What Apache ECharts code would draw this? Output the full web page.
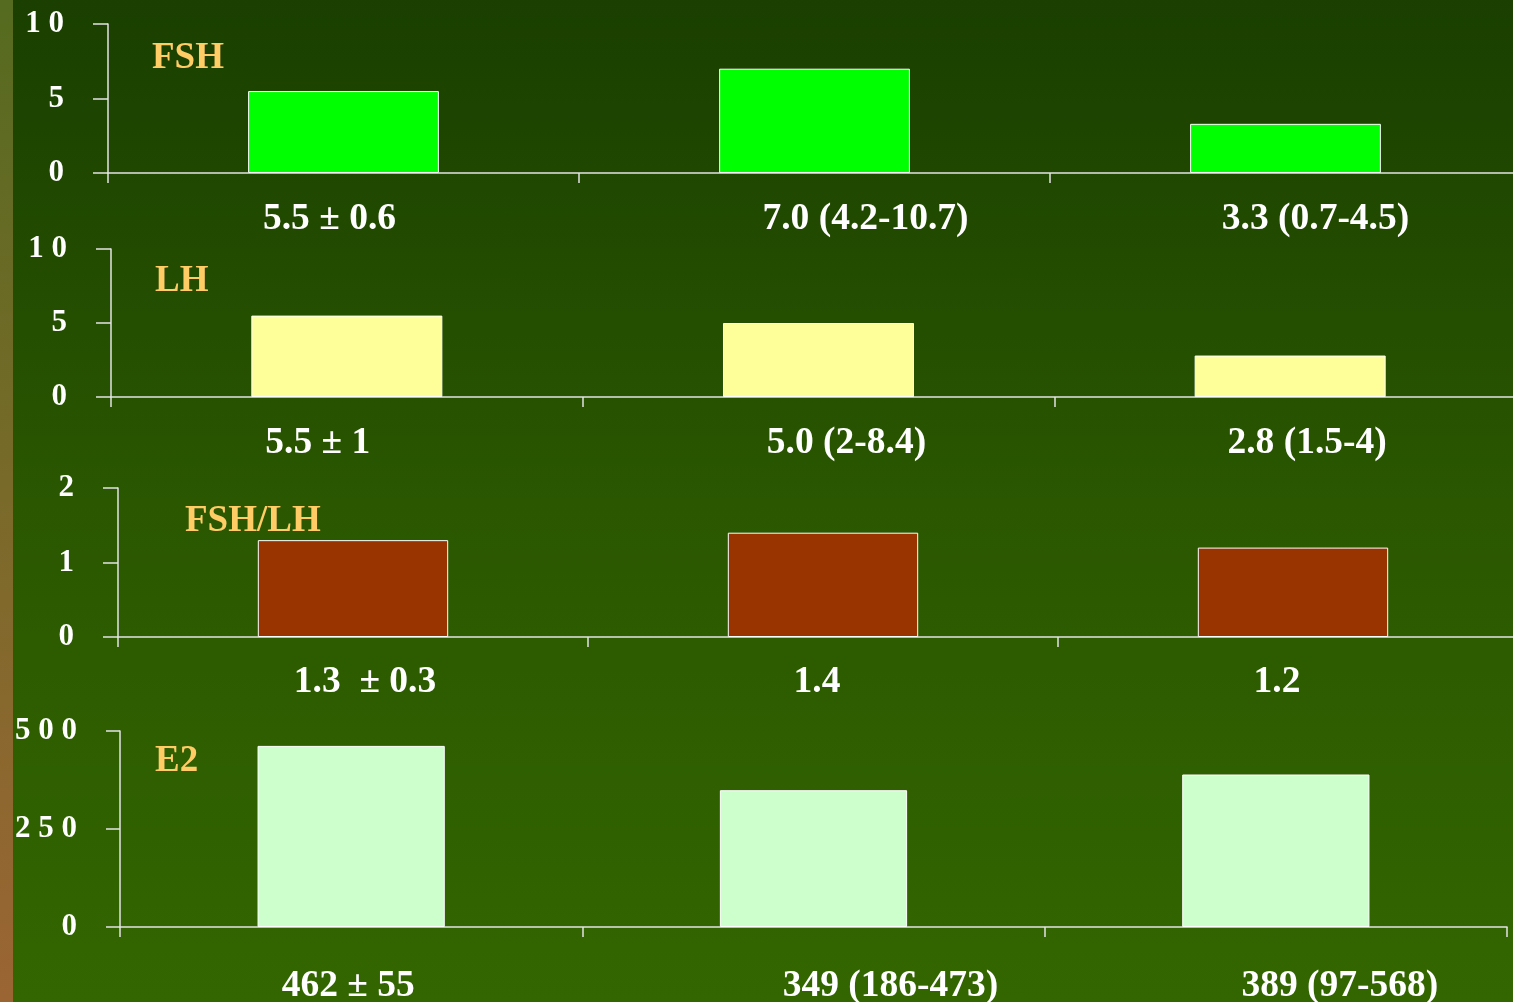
<!DOCTYPE html>
<html>
<head>
<meta charset="utf-8">
<title>FSH, LH, FSH/LH, E2</title>
<script src="https://cdn.jsdelivr.net/npm/echarts@6/dist/echarts.min.js"></script>
<style>
  html, body { margin: 0; padding: 0; }
  body { width: 1513px; height: 1002px; overflow: hidden; position: relative;
         background: linear-gradient(to bottom, #1a3f00 0%, #2a5700 50%, #336600 100%); }
  #strip { position: absolute; left: 0; top: 0; width: 13px; height: 1002px;
           background: linear-gradient(to bottom, #556b1f 0%, #7a6a2a 50%, #9b6533 100%); }
  #chart { position: absolute; left: 0; top: 0; width: 1513px; height: 1002px; }
</style>
</head>
<body>
<div id="strip"></div>
<div id="chart"></div>
<script>
// Panel titles
const panelNames = ['FSH', 'LH', 'FSH/LH', 'E2'];

// Bar values per panel (three groups each)
const fshValues = [5.5, 7.0, 3.3];
const lhValues = [5.5, 5.0, 2.8];
const ratioValues = [1.3, 1.4, 1.2];
const e2Values = [462, 349, 389];

// Group summaries printed under each bar
const fshLabels = ['5.5 ± 0.6', '7.0 (4.2-10.7)', '3.3 (0.7-4.5)'];
const lhLabels = ['5.5 ± 1', '5.0 (2-8.4)', '2.8 (1.5-4)'];
const ratioLabels = ['1.3  ± 0.3', '1.4', '1.2'];
const e2Labels = ['462 ± 55', '349 (186-473)', '389 (97-568)'];

// Value-axis ranges: [max, tick step]
const fshAxis = [10, 5];
const lhAxis = [10, 5];
const ratioAxis = [2, 1];
const e2Axis = [500, 250];

// Layout of the four stacked panels (the category axes run past the right edge)
const panelLayout = [
  { left: 108, top: 24,  width: 1413, height: 149, labelMargin: 27, title: [152, 40],  tick: 15 },
  { left: 111, top: 249, width: 1415, height: 148, labelMargin: 27, title: [155, 263], tick: 15 },
  { left: 118, top: 488, width: 1410, height: 149, labelMargin: 26, title: [185, 503], tick: 15 },
  { left: 120, top: 731, width: 1387, height: 196, labelMargin: 40, title: [155, 743], tick: 14 }
];
// Horizontal nudge of each summary label from its group centre
const labelShift = [
  [-14, 51, 30],
  [-29, 28, 17],
  [12, -6, -16],
  [-3, 77, 64]
];
const barColors = ['#00ff00', '#ffff99', '#993300', '#ccffcc'];

const panels = [
  { values: fshValues, labels: fshLabels, axis: fshAxis },
  { values: lhValues, labels: lhLabels, axis: lhAxis },
  { values: ratioValues, labels: ratioLabels, axis: ratioAxis },
  { values: e2Values, labels: e2Labels, axis: e2Axis }
];

const serif = '"Liberation Serif", "Times New Roman", serif';
const lineColor = '#e4e4e4';

const grid = [], xAxis = [], yAxis = [], series = [], title = [];

panels.forEach((p, i) => {
  const L = panelLayout[i];
  grid.push({
    left: L.left, top: L.top, width: L.width, height: L.height,
    containLabel: false, outerBoundsMode: 'none'
  });

  const rich = {};
  labelShift[i].forEach((d, k) => {
    rich['c' + k] = {
      color: '#ffffff', fontFamily: serif, fontWeight: 'bold', fontSize: 37.5,
      padding: d >= 0 ? [0, 0, 0, 2 * d] : [0, -2 * d, 0, 0]
    };
  });

  xAxis.push({
    type: 'category', gridIndex: i, data: p.labels, boundaryGap: true,
    axisLine: { show: true, lineStyle: { color: lineColor, width: 1.5 } },
    axisTick: { show: true, length: 10, inside: false, lineStyle: { color: lineColor, width: 1.5 } },
    axisLabel: {
      interval: 0, margin: L.labelMargin, hideOverlap: false,
      formatter: (v, idx) => '{c' + idx + '|' + v + '}',
      rich: rich
    },
    splitLine: { show: false }
  });

  yAxis.push({
    type: 'value', gridIndex: i, min: 0, max: p.axis[0], interval: p.axis[1],
    axisLine: { show: true, lineStyle: { color: lineColor, width: 1.5 } },
    axisTick: { show: true, length: L.tick, inside: false, lineStyle: { color: lineColor, width: 1.5 } },
    axisLabel: {
      color: '#ffffff', fontFamily: serif, fontWeight: 'bold', fontSize: 31,
      margin: L.tick + 29,
      formatter: v => String(v).split('').join(' ')
    },
    splitLine: { show: false }
  });

  series.push({
    type: 'bar', xAxisIndex: i, yAxisIndex: i, data: p.values,
    barWidth: '40.5%',
    itemStyle: { color: barColors[i], borderColor: '#ffffff', borderWidth: 1 },
    silent: true, animation: false
  });

  title.push({
    text: panelNames[i], left: L.title[0], top: L.title[1], padding: 0,
    textStyle: { color: '#ffcc66', fontFamily: serif, fontWeight: 'bold', fontSize: 37 }
  });
});

const chart = echarts.init(document.getElementById('chart'), null, { renderer: 'canvas' });
chart.setOption({
  backgroundColor: 'transparent',
  animation: false,
  title, grid, xAxis, yAxis, series
});
</script>
</body>
</html>
